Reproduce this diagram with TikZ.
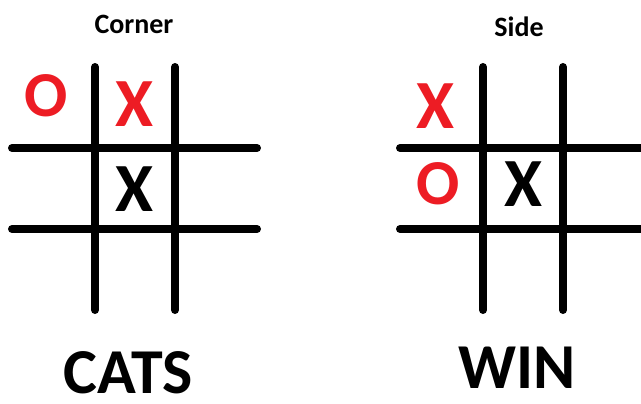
\documentclass[tikz,border=0pt]{standalone}
\usepackage{fontspec}
\setmainfont{Carlito}
\definecolor{paintred}{RGB}{237,28,36}

\tikzset{
  gridline/.style={line width=8pt, line cap=round},
  piece/.style={inner sep=0pt, font=\bfseries\fontsize{64}{64}\selectfont},
  xpiece/.style={piece, font=\bfseries\fontsize{69}{69}\selectfont},
  caption/.style={inner sep=0pt, font=\bfseries\fontsize{28}{28}\selectfont},
  verdict/.style={inner sep=0pt, font=\bfseries\fontsize{64}{64}\selectfont}
}

\begin{document}
\begin{tikzpicture}[x=1pt, y=-1pt]
  \useasboundingbox[fill=white] (0,0) rectangle (641,404);

  % Corner board
  \foreach \x in {95,175} \draw[gridline] (\x,67) -- (\x,310);
  \foreach \y in {148,229} \draw[gridline] (12,\y) -- (257,\y);
  \node[caption] (cornerlabel) at (134,24) {Corner};
  \node[piece, paintred] (cornerO) at (46,96) {O};
  \node[xpiece, paintred] (cornerX) at (135,104) {X};
  \node[xpiece] (cornerXc) at (135,189) {X};
  \node[verdict] (cats) at (128,373) {CATS};

  % Side board
  \foreach \x in {483,563} \draw[gridline] (\x,67) -- (\x,310);
  \foreach \y in {148,229} \draw[gridline] (400,\y) -- (650,\y);
  \node[caption] (sidelabel) at (519,27) {Side};
  \node[xpiece, paintred] (sideX) at (435,106) {X};
  \node[piece, paintred] (sideO) at (438,184) {O};
  \node[xpiece] (sideXc) at (523,184) {X};
  \node[verdict] (win) at (517,368) {WIN};
\end{tikzpicture}
\end{document}
